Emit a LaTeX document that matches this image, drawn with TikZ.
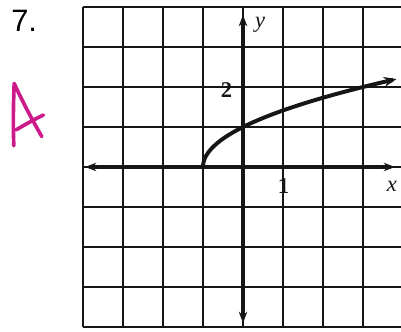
\documentclass[tikz,border=0pt]{standalone}
\usepackage{fontspec}
\setmainfont{Liberation Serif}
\newfontfamily\numfont{Liberation Sans}
\usetikzlibrary{arrows.meta}
\definecolor{inkclr}{RGB}{22,22,22}
\definecolor{penclr}{RGB}{204,26,138}

\begin{document}
\begin{tikzpicture}[
  gridline/.style={draw=inkclr, line width=2pt},
  axisline/.style={draw=inkclr, line width=2.8pt,
    {Stealth[length=8pt,width=6pt]}-{Stealth[length=8pt,width=6pt]}},
  lbl/.style={inner sep=0pt, text=inkclr, font=\fontsize{16}{18}\selectfont},
  hand/.style={draw=penclr, line width=2.6pt, line cap=round, line join=round}]
  \useasboundingbox (-6.075,-4.1) rectangle (3.95,4.175);
  \fill[white] (-6.075,-4.1) rectangle (3.95,4.175);
  % grid and axes
  \draw[gridline] (-4,-4) grid (3.95,4);
  \draw[axisline] (-3.95,0) -- (3.8,0);
  \draw[axisline] (0,-3.9) -- (0,3.8);
  \draw[draw=inkclr, line width=2.8pt, -{Stealth[length=9pt,width=7pt]}]
    plot[domain=0:2.2, samples=60, smooth] ({\x*\x-1},{\x});
  % labels
  \node[lbl, anchor=center] (ylbl) at (0.43,3.55) {\itshape y};
  \node[lbl, anchor=center] (xlbl) at (3.72,-0.49) {\itshape x};
  \node[lbl, anchor=center] (twolbl) at (-0.41,1.93) {\bfseries 2};
  \node[lbl, anchor=center] (onelbl) at (1.01,-0.48) {\bfseries 1};
  \node[anchor=center, inner sep=0pt, font=\numfont\fontsize{22}{24}\selectfont]
    (probnum) at (-5.47,3.65) {7.};
  % handwritten answer
  \draw[hand] (-5.73,0.53) .. controls (-5.75,1.1) and (-5.74,1.6) .. (-5.72,2.09)
    .. controls (-5.5,1.6) and (-5.25,1.15) .. (-5.03,0.76);
  \draw[hand] (-5.67,0.93) .. controls (-5.45,1.06) and (-5.2,1.2) .. (-4.99,1.3);
\end{tikzpicture}
\end{document}
